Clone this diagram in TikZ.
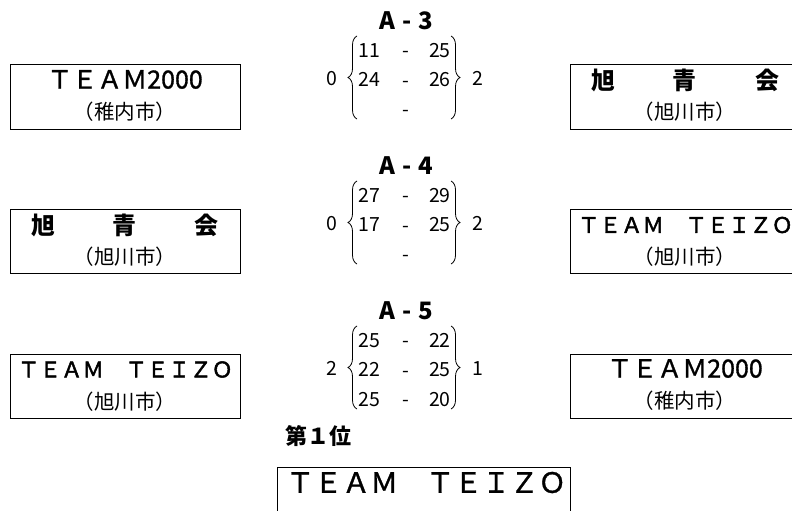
\documentclass[tikz,border=0pt]{standalone}
\usepackage{fontspec}
\setmainfont{Noto Sans CJK JP}
\newfontfamily\medfont[FakeBold=1.2]{Noto Sans CJK JP}
\newfontfamily\semifont[FakeBold=2.2]{Noto Sans CJK JP}
\usetikzlibrary{positioning,decorations.pathreplacing}
\tikzset{
	teambox/.style={draw,line width=1pt,minimum width=230pt,minimum height=64pt,inner sep=0pt},
	teamname/.style={inner sep=0pt,font=\medfont\fontsize{25}{25}\selectfont},
	teamcity/.style={inner sep=0pt,font=\fontsize{20.5}{21}\selectfont},
	gametitle/.style={inner sep=0pt,font=\bfseries\fontsize{24}{24}\selectfont},
	setscore/.style={inner sep=0pt,text height=14pt,text depth=0pt,font=\fontsize{19.5}{20}\selectfont},
	setbrace/.style={decorate,decoration={brace,amplitude=9pt},line width=.8pt}
}
\begin{document}
\begin{tikzpicture}[x=1pt,y=-1pt]
		\useasboundingbox (0,0) rectangle (792,511);
		% team boxes, home on the left, away on the right
		\node[teambox] (home3) at (125,97) {};
		\node[teambox] (away3) at (685,97) {};
		\node[teambox] (home4) at (125,241.5) {};
		\node[teambox] (away4) at (685,241.5) {};
		\node[teambox] (home5) at (125,386) {};
		\node[teambox] (away5) at (685,386) {};
		\node[teamname] (home3name) at ([yshift=-15pt]home3.north) {ＴＥＡＭ2000};
		\node[teamcity] (home3city) at ([yshift=-47pt]home3.north) {（稚内市）};
		\node[teamname,font=\bfseries\fontsize{24}{24}\selectfont] (away3name) at ([yshift=-16pt]away3.north) {旭\hspace{58pt}青\hspace{58pt}会};
		\node[teamcity] (away3city) at ([yshift=-47pt]away3.north) {（旭川市）};
		\node[teamname,font=\bfseries\fontsize{24}{24}\selectfont] (home4name) at ([yshift=-16pt]home4.north) {旭\hspace{58pt}青\hspace{58pt}会};
		\node[teamcity] (home4city) at ([yshift=-48pt]home4.north) {（旭川市）};
		\node[teamname,font=\semifont\fontsize{21.5}{22}\selectfont] (away4name) at ([xshift=0.5pt,yshift=-16pt]away4.north) {ＴＥＡＭ　ＴＥＩＺＯ};
		\node[teamcity] (away4city) at ([yshift=-48pt]away4.north) {（旭川市）};
		\node[teamname,font=\semifont\fontsize{21.5}{22}\selectfont] (home5name) at ([xshift=0.5pt,yshift=-16pt]home5.north) {ＴＥＡＭ　ＴＥＩＺＯ};
		\node[teamcity] (home5city) at ([yshift=-48pt]home5.north) {（旭川市）};
		\node[teamname] (away5name) at ([yshift=-15pt]away5.north) {ＴＥＡＭ2000};
		\node[teamcity] (away5city) at ([yshift=-47pt]away5.north) {（稚内市）};
		% games
		\foreach \m/\y/\lw/\rw in {3/0/0/2,4/145/0/2,5/290/2/1}{
			\node[gametitle] (title\m) at (406,20.5+\y) {A\kern7pt-\kern7pt\m};
			\coordinate (lt\m) at (357,36+\y);
			\coordinate (lb\m) at (357,119+\y);
			\coordinate (rt\m) at (451,36+\y);
			\coordinate (rb\m) at (451,119+\y);
			\draw[setbrace] (lb\m) -- (lt\m);
			\draw[setbrace] (rt\m) -- (rb\m);
			\node[setscore] (setl\m) at (332,78+\y) {\lw};
			\node[setscore] (setr\m) at (478,78+\y) {\rw};
			\foreach \k in {1,2,3}
				\node[setscore] (dash\m\k) at (406,20.5+\y+29.5*\k) {\raisebox{-0.5pt}{-}};
		}
		\foreach \m/\k/\a/\b in {3/1/11/25,3/2/24/26,4/1/27/29,4/2/17/25,5/1/25/22,5/2/22/25,5/3/25/20}{
			\node[setscore,anchor=west] (ptl\m\k) at (358,{(\m-3)*145+20.5+29.5*\k}) {\a};
			\node[setscore,anchor=east] (ptr\m\k) at (451,{(\m-3)*145+20.5+29.5*\k}) {\b};
		}
		% winner
		\node[inner sep=0pt,anchor=west,font=\bfseries\fontsize{22}{22}\selectfont] (rank) at (285,436) {第１位};
		\node[teambox,minimum width=293pt,anchor=north west] (champ) at (277,467) {};
		\node[inner sep=0pt,anchor=west,font=\medfont\fontsize{28}{28}\selectfont] (champname) at ([xshift=9pt,yshift=-15.5pt]champ.north west) {ＴＥＡＭ　ＴＥＩＺＯ};
\end{tikzpicture}
\end{document}
